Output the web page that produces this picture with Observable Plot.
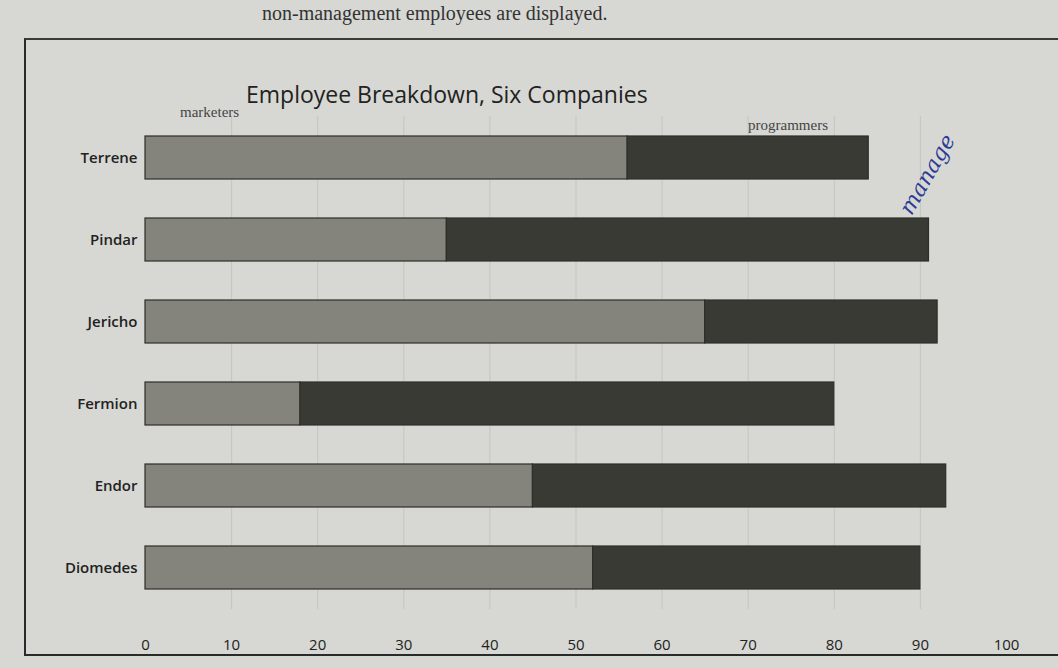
<!DOCTYPE html>
<html>
<head>
<meta charset="utf-8">
<script src="https://cdn.jsdelivr.net/npm/d3@7"></script>
<script src="https://cdn.jsdelivr.net/npm/@observablehq/plot@0.6"></script>
<style>
  html, body { margin: 0; padding: 0; background: #d7d8d3; }
  #wrap { position: relative; width: 1058px; height: 668px; overflow: hidden; background: #d7d8d3; }
  #chart { position: absolute; left: 0; top: 0; }
  .frame { position: absolute; left: 24px; top: 38px; width: 1100px; height: 614px; border-left: 2px solid #2a2a28; border-top: 2px solid #3a3a36; border-bottom: 2px solid #2a2a28; }
  .caption { position: absolute; left: 262px; top: 2px; font-family: "Liberation Serif", serif; font-size: 20px; color: #333; }
  .title { position: absolute; left: 246px; top: 78px; font-family: "Open Sans", sans-serif; font-size: 23px; color: #222; }
  .lab { position: absolute; font-family: "Liberation Serif", serif; font-size: 15px; color: #444; }
  .hand { position: absolute; left: 905px; top: 200px; font-family: "DejaVu Serif", serif; font-style: italic; font-size: 22px; color: #2b3a96; transform: rotate(-60deg); transform-origin: left center; }
</style>
</head>
<body>
<div id="wrap">
  <div class="frame"></div>
  <div id="chart"></div>
  <div class="caption">non-management employees are displayed.</div>
  <div class="title">Employee Breakdown, Six Companies</div>
  <div class="lab" style="left:180px; top:104px;">marketers</div>
  <div class="lab" style="left:748px; top:117px;">programmers</div>
  <div class="hand">manage</div>
</div>
<script>
const companies = ["Terrene", "Pindar", "Jericho", "Fermion", "Endor", "Diomedes"];
const marketers = [56, 35, 65, 18, 45, 52];
const programmers = [28, 56, 27, 62, 48, 38];
const roles = ["marketers", "programmers"];
const xTicks = [0, 10, 20, 30, 40, 50, 60, 70, 80, 90, 100];

const rows = [];
companies.forEach((c, i) => {
  rows.push({company: c, role: roles[0], value: marketers[i]});
  rows.push({company: c, role: roles[1], value: programmers[i]});
});

const chart = Plot.plot({
  width: 1058,
  height: 668,
  marginLeft: 145,
  marginRight: 52,
  marginTop: 116,
  marginBottom: 59,
  style: {background: "transparent", fontFamily: "Open Sans, sans-serif", color: "#222"},
  x: {domain: [0, 100], ticks: xTicks, label: null, tickSize: 0, tickPadding: 30},
  y: {domain: companies, paddingInner: 0.47, paddingOuter: 0.234, label: null, tickSize: 0, tickPadding: 6},
  color: {domain: roles, range: ["#84847c", "#3a3a35"]},
  marks: [
    Plot.gridX(xTicks.slice(1, -1), {stroke: "#b3b4af", strokeOpacity: 0.5}),
    Plot.barX(rows, Plot.stackX({x: "value", y: "company", fill: "role", stroke: "#2e2e2a", strokeWidth: 1.2})),
    Plot.axisX({ticks: xTicks, tickSize: 0, tickPadding: 30, fontSize: 15, label: null}),
    Plot.axisY({tickSize: 0, tickPadding: 8, fontSize: 15, fontWeight: 600, label: null})
  ]
});
document.getElementById("chart").appendChild(chart);
</script>
</body>
</html>
